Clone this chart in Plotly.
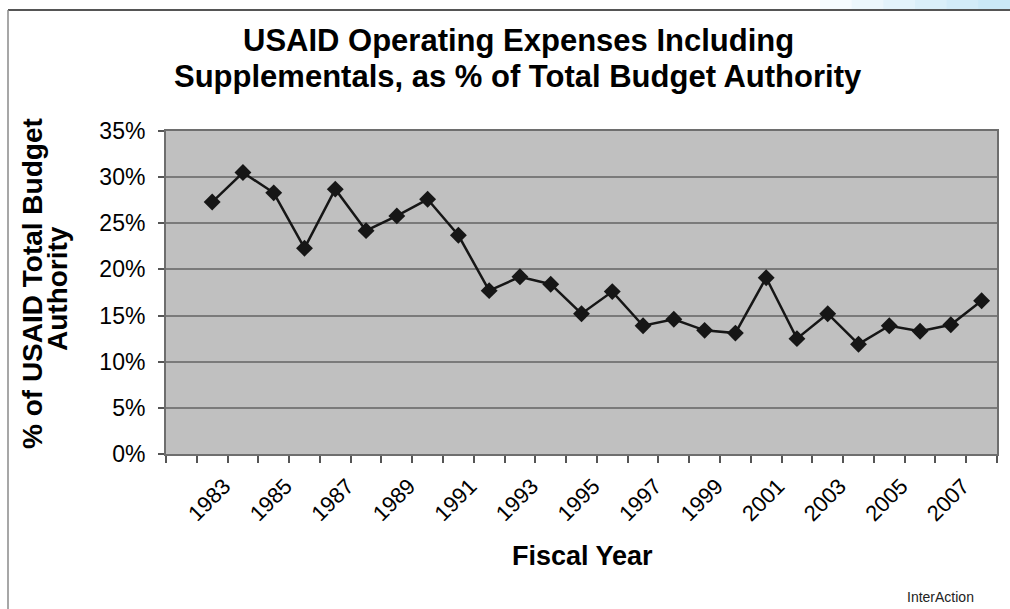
import plotly.graph_objects as go

# ---- data ----
years = list(range(1983, 2009))
values = [27.3, 30.5, 28.3, 22.3, 28.7, 24.2, 25.8, 27.6, 23.7, 17.7,
          19.2, 18.4, 15.2, 17.6, 13.9, 14.6, 13.4, 13.1, 19.1, 12.5,
          15.2, 11.9, 13.9, 13.3, 14.0, 16.6]
first_category = 1982          # empty first category on the axis
last_category = 2008
label_years = list(range(1983, 2008, 2))
y_ticks = [0, 5, 10, 15, 20, 25, 30, 35]

title_lines = ["USAID Operating Expenses Including",
               "Supplementals, as % of Total Budget Authority"]
y_title_lines = ["% of USAID Total Budget", "Authority"]
x_title = "Fiscal Year"
source = "InterAction"

# ---- geometry helpers (pixel -> paper) ----
W, H = 1010, 609
L, R, T, B = 166, 13, 131, 155
PW, PH = W - L - R, H - T - B
def px(x):
    return (x - L) / PW
def py(y):
    return (H - B - y) / PH

FONT = "Liberation Sans, Arial, sans-serif"

fig = go.Figure()
fig.add_trace(go.Scatter(
    x=years, y=values, mode="lines+markers",
    line=dict(color="#161616", width=2.5),
    marker=dict(symbol="diamond", size=13, color="#161616"),
    showlegend=False, hoverinfo="x+y", xaxis="x", yaxis="y"))
# invisible companion trace so the label axis is drawn
fig.add_trace(go.Scatter(
    x=years, y=values, mode="markers", marker=dict(opacity=0),
    showlegend=False, hoverinfo="skip", xaxis="x2", yaxis="y"))

boundaries = [c - 0.5 for c in range(first_category, last_category + 2)]
xrange = [first_category - 0.5, last_category + 0.5]

shapes = []
# light blue band at top right (background slide)
blues = ["#f5fbfe", "#ecf7fc", "#e3f3fb", "#daeff9", "#d2ebf8", "#cae8f7"]
x0 = 820
step = (W - x0) / len(blues)
for i, c in enumerate(blues):
    shapes.append(dict(type="rect", xref="paper", yref="paper",
                       x0=px(x0 + i * step), x1=px(x0 + (i + 1) * step + 1),
                       y0=py(9), y1=py(0), fillcolor=c, line=dict(width=0),
                       layer="below"))
# frame lines
shapes.append(dict(type="line", xref="paper", yref="paper",
                   x0=px(8), x1=px(W + 5), y0=py(10), y1=py(10),
                   line=dict(color="#555555", width=2)))
shapes.append(dict(type="line", xref="paper", yref="paper",
                   x0=px(8), x1=px(8), y0=py(10), y1=py(H + 5),
                   line=dict(color="#8a8a8a", width=1.5)))

annotations = [
    dict(text=title_lines[0], x=px(518), y=py(41), xref="paper", yref="paper",
         showarrow=False, xanchor="center", yanchor="middle",
         font=dict(family=FONT, size=31, color="#000")),
    dict(text=title_lines[1], x=px(518), y=py(76), xref="paper", yref="paper",
         showarrow=False, xanchor="center", yanchor="middle",
         font=dict(family=FONT, size=31, color="#000")),
    dict(text=y_title_lines[0], x=px(32), y=py(284), xref="paper", yref="paper",
         showarrow=False, xanchor="center", yanchor="middle", textangle=-90,
         font=dict(family=FONT, size=28, color="#000")),
    dict(text=y_title_lines[1], x=px(57), y=py(289), xref="paper", yref="paper",
         showarrow=False, xanchor="center", yanchor="middle", textangle=-90,
         font=dict(family=FONT, size=28, color="#000")),
    dict(text=x_title, x=px(582), y=py(556), xref="paper", yref="paper",
         showarrow=False, xanchor="center", yanchor="middle",
         font=dict(family=FONT, size=27, color="#000")),
    dict(text=source, x=px(940), y=py(597), xref="paper", yref="paper",
         showarrow=False, xanchor="center", yanchor="middle",
         font=dict(family=FONT, size=14, color="#222")),
]
# bold titles
for a in annotations[:5]:
    a["text"] = "<b>" + a["text"] + "</b>"

fig.update_layout(
    width=W, height=H, autosize=False,
    margin=dict(l=L, r=R, t=T, b=B, pad=0),
    paper_bgcolor="white", plot_bgcolor="#c0c0c0",
    font=dict(family=FONT, color="#000"),
    xaxis=dict(range=xrange, tickmode="array", tickvals=boundaries,
               showticklabels=False, ticks="outside", ticklen=7,
               tickcolor="#555", tickwidth=1.5,
               showline=True, linecolor="#6e6e6e", linewidth=2, mirror=True,
               showgrid=False, zeroline=False, fixedrange=True),
    xaxis2=dict(range=xrange, overlaying="x", anchor="y", side="bottom",
                tickmode="array", tickvals=label_years,
                ticktext=[str(y) for y in label_years],
                tickangle=-45, ticks="", showline=False, showgrid=False,
                zeroline=False, tickfont=dict(family=FONT, size=22, color="#000"),
                ticklabelshift=12, ticklabelstandoff=14, fixedrange=True),
    yaxis=dict(range=[0, 35], tickmode="array", tickvals=y_ticks,
               ticktext=[f"{v}%" for v in y_ticks],
               ticks="outside", ticklen=6, tickcolor="#555", tickwidth=1.5,
               showgrid=True, gridcolor="#7a7a7a", gridwidth=1.5,
               showline=True, linecolor="#6e6e6e", linewidth=2, mirror=True,
               zeroline=False, tickfont=dict(family=FONT, size=23, color="#000"),
               ticklabelstandoff=8, fixedrange=True),
    shapes=shapes, annotations=annotations, showlegend=False,
)

fig.write_html("out.html",
               config={"displayModeBar": False},
               post_script="document.body.style.margin='0';"
                           "document.body.style.padding='0';")
